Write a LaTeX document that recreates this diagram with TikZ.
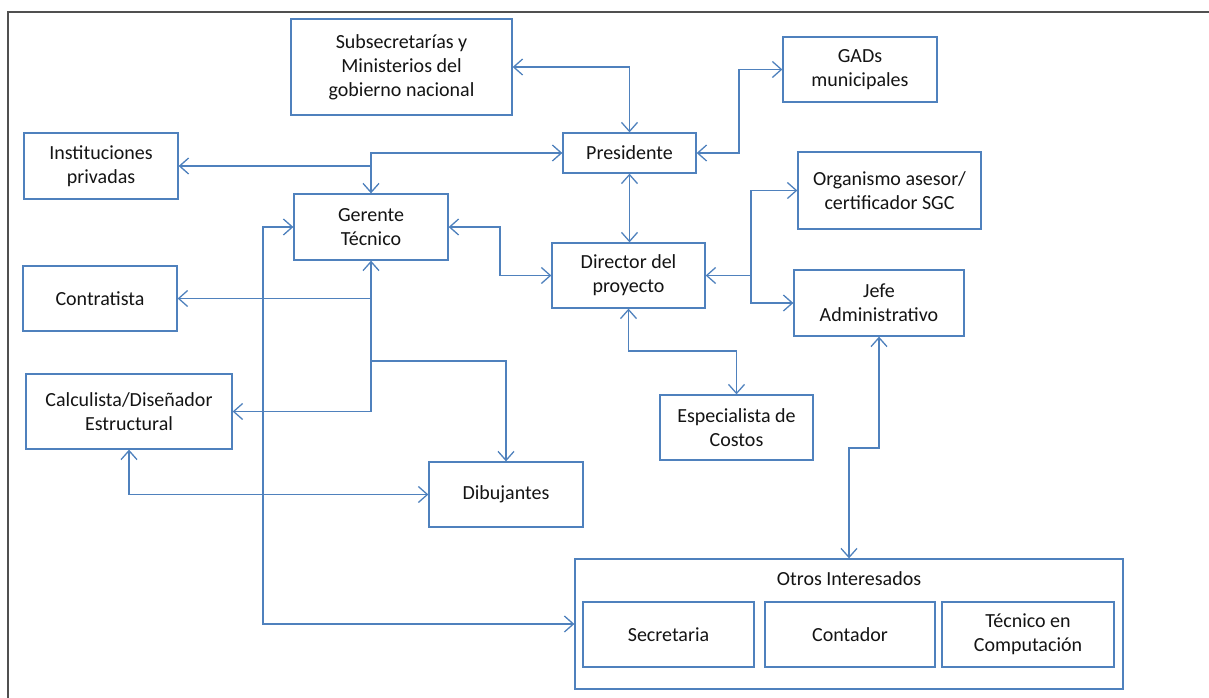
\documentclass[tikz,border=0pt]{standalone}
\usepackage{fontspec}
\setmainfont{Carlito}
\usetikzlibrary{arrows.meta}
\definecolor{boxblue}{RGB}{79,129,189}
\definecolor{txt}{RGB}{20,20,20}
\definecolor{framegray}{RGB}{80,80,80}
\tikzset{
  orgbox/.style={draw=boxblue, line width=1.3pt, fill=white, inner sep=0pt,
    align=center, text=txt, font=\fontsize{20}{24}\selectfont},
  link/.style={draw=boxblue, line width=1.3pt,
    arrows={-}, >={Straight Barb[length=9pt,width=16pt,line width=1.3pt]}},
}
\newcommand{\orgnode}[6]{%
  \node[orgbox, minimum width=#4pt, minimum height=#5pt] (#1) at (#2,#3) {#6};}
\begin{document}
\begin{tikzpicture}[x=1pt,y=-1pt]
\useasboundingbox (0,0) rectangle (1209,698);
% outer frame (top and left edges)
\draw[framegray, line width=1.4pt] (8,698) -- (8,12) -- (1209,12);

% boxes
\orgnode{subs}{401.5}{67}{221}{96}{Subsecretarías y\\Ministerios del\\gobierno nacional}
\orgnode{gads}{860}{69.5}{154}{65}{GADs\\municipales}
\orgnode{pres}{629.5}{153}{133}{40}{Presidente}
\orgnode{inst}{101}{166}{154}{66}{Instituciones\\privadas}
\orgnode{ger}{371}{227}{154}{66}{Gerente\\Técnico}
\orgnode{dir}{628.5}{275.5}{153}{65}{Director del\\proyecto}
\orgnode{org}{889.5}{190.5}{183}{77}{Organismo asesor/\\certificador SGC}
\orgnode{jefe}{879}{303}{170}{66}{Jefe\\Administrativo}
\orgnode{contr}{100}{298.5}{154}{65}{Contratista}
\orgnode{calc}{129}{411.5}{206}{75}{Calculista/Diseñador\\Estructural}
\orgnode{dib}{506}{494.5}{154}{65}{Dibujantes}
\orgnode{esp}{736.5}{427.5}{153}{65}{Especialista de\\Costos}
% group of other stakeholders
\node[orgbox, minimum width=548pt, minimum height=130pt] (otros) at (849,624) {};
\node[text=txt, font=\fontsize{20}{24}\selectfont] (otroslbl) at (849,579) {Otros Interesados};
\orgnode{sec}{668.5}{634.5}{171}{65}{Secretaria}
\orgnode{cont}{850}{634.5}{170}{65}{Contador}
\orgnode{tec}{1028}{634.5}{172}{65}{Técnico en\\Computación}

% junction points
\coordinate (gline) at (263,0);
\coordinate (gadsbend) at (739,0);
\coordinate (dirbend) at (751,0);
\coordinate (gdbend) at (500,0);

% connectors
\draw[link, <->] (subs.east) -| (pres.north);
\draw[link, <->] (pres.east) -| (gadsbend |- pres.east) |- (gads.west);
\draw[link, <->] (pres.west) -| (ger.north);
\draw[link, ->] (ger.north |- inst.east) -- (inst.east);
\draw[link, <->] (pres.south) -- (pres.south |- dir.north);
\draw[link, <->] (ger.east) -| (gdbend |- ger.east) |- (dir.west);
\draw[link, <->] (dir.east) -| (dirbend |- org.west) -- (org.west);
\draw[link, ->] (dirbend |- dir.east) |- (jefe.west);
\draw[link, <->] (dir.south) -- (dir.south |- 0,351) -| (esp.north);
\draw[link, <->] (jefe.south) -- (jefe.south |- 0,448) -| (otros.north);

% lines below the technical manager
\draw[link, ->] (ger.south |- calc.east) -- (ger.south);
\draw[link, ->] (ger.south |- calc.east) -- (calc.east);
\draw[link, ->] (ger.south |- contr.east) -- (contr.east);
\draw[link, ->] (ger.south |- 0,361) -| (dib.north);
\draw[link, <->] (calc.south) |- (dib.west);
\draw[link, <->] (ger.west) -| (gline |- otros.west) -- (otros.west);
\end{tikzpicture}
\end{document}
